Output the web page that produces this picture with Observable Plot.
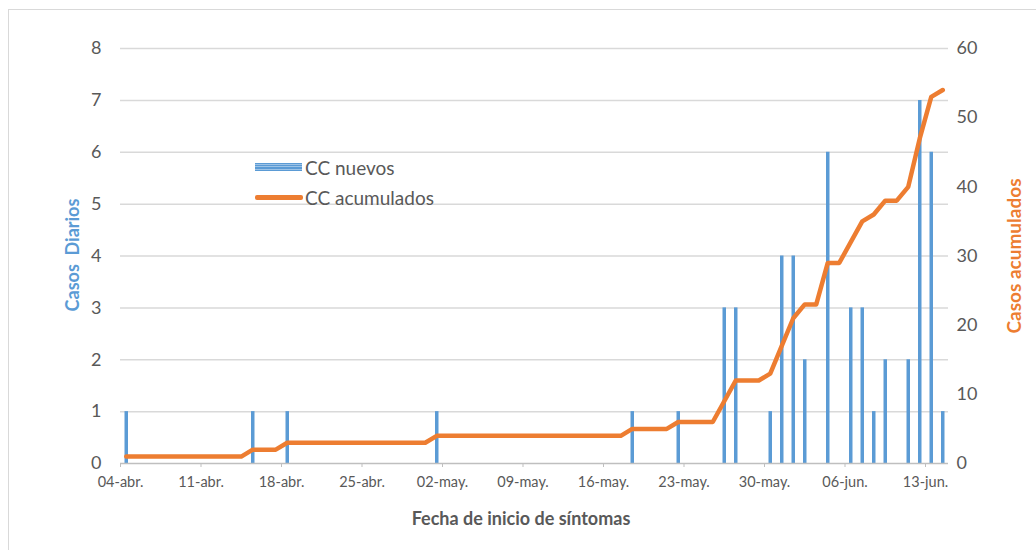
<!DOCTYPE html>
<html>
<head>
<meta charset="utf-8">
<script src="https://cdn.jsdelivr.net/npm/d3@7"></script>
<script src="https://cdn.jsdelivr.net/npm/@observablehq/plot@0.6"></script>
<style>
  html, body { margin: 0; padding: 0; background: #fff; }
  #wrap { position: relative; width: 1036px; height: 550px; overflow: hidden; font-family: Lato, "Open Sans", sans-serif; }
  #frame { position: absolute; left: 8px; top: 9px; width: 1040px; height: 560px; border-top: 1.5px solid #d9d9d9; border-left: 1.5px solid #d9d9d9; }
  .ttl { position: absolute; font-weight: bold; white-space: pre; }
  .leg { position: absolute; font-size: 19px; color: #595959; white-space: pre; }
</style>
</head>
<body>
<div id="wrap">
  <div id="frame"></div>
</div>
<script>
// ---- data ----
const startDate = "2020-04-04";
// daily new cases (CC nuevos), one value per day from 04-abr to 14-jun
const nuevos = [1,0,0,0,0,0,0,0,0,0, 0,1,0,0,1,0,0,0,0,0, 0,0,0,0,0,0,0,1,0,0,
                0,0,0,0,0,0,0,0,0,0, 0,0,0,0,1,0,0,0,1,0, 0,0,3,3,0,0,1,4,4,2,
                0,6,0,3,3,1,2,0,2,7, 6,1];
// cumulative cases (CC acumulados), same days
const acumulados = [1,1,1,1,1,1,1,1,1,1, 1,2,2,2,3,3,3,3,3,3, 3,3,3,3,3,3,3,4,4,4,
                    4,4,4,4,4,4,4,4,4,4, 4,4,4,4,5,5,5,5,6,6, 6,6,9,12,12,12,13,17,21,23,
                    23,29,29,32,35,36,38,38,40,47, 53,54];
const tickLabels = ["04-abr.","11-abr.","18-abr.","25-abr.","02-may.","09-may.","16-may.","23-may.","30-may.","06-jun.","13-jun."];
const yLeftTicks = [0,1,2,3,4,5,6,7,8];
const yRightTicks = [0,10,20,30,40,50,60];
const yRightMax = 60, yLeftMax = 8;

const start = new Date(startDate + "T00:00:00Z");
const dayCenter = i => new Date(start.getTime() + (i + 0.5) * 864e5);
const data = nuevos.map((v, i) => ({date: dayCenter(i), nuevos: v, acum: acumulados[i]}));
const ratio = yRightMax / yLeftMax;
const tickDates = tickLabels.map((_, i) => d3.utcDay.offset(start, 7 * i));
const endDate = d3.utcDay.offset(start, nuevos.length);

const chart = Plot.plot({
  width: 1036,
  height: 550,
  marginLeft: 120,
  marginRight: 88,
  marginTop: 48,
  marginBottom: 87,
  style: {fontFamily: "Lato, 'Open Sans', sans-serif", color: "#595959", background: "transparent"},
  x: {type: "utc", domain: [start, endDate]},
  y: {domain: [0, yLeftMax]},
  marks: [
    Plot.gridY(yLeftTicks.slice(1), {stroke: "#d9d9d9", strokeOpacity: 1, strokeWidth: 1.5}),
    Plot.ruleX(data.filter(d => d.nuevos > 0), {x: "date", y1: 0, y2: "nuevos", stroke: "#5b9bd5", strokeWidth: 3.5}),
    Plot.ruleY([0], {stroke: "#bfbfbf", strokeWidth: 1.5}),
    Plot.line(data, {x: "date", y: d => d.acum / ratio, stroke: "#ed7d31", strokeWidth: 4.5, strokeLinejoin: "round", strokeLinecap: "round"}),
    Plot.axisY(yLeftTicks, {anchor: "left", tickSize: 0, tickPadding: 19, fontSize: 18, fill: "#595959", tickFormat: d => String(d), label: null}),
    Plot.axisY(yRightTicks.map(v => v / ratio), {anchor: "right", tickSize: 0, tickPadding: 8, fontSize: 18, fill: "#595959", textAnchor: "start", tickFormat: d => String(Math.round(d * ratio)), label: null}),
    Plot.axisX(tickDates, {tickSize: 4, stroke: "#bfbfbf", tickPadding: 9, fontSize: 14.5, fill: "#595959", tickFormat: (d, i) => tickLabels[i], label: null})
  ]
});
chart.style.position = "absolute";
chart.style.left = "0px";
chart.style.top = "0px";
const wrap = document.getElementById("wrap");
wrap.appendChild(chart);

function addDiv(cls, text, css) {
  const el = document.createElement("div");
  el.className = cls;
  el.textContent = text;
  Object.assign(el.style, css);
  wrap.appendChild(el);
  return el;
}
// axis titles
addDiv("ttl", "Casos  Diarios", {left: "72px", top: "255px", color: "#5b9bd5", fontSize: "18px", transform: "translate(-50%,-50%) rotate(-90deg)"});
addDiv("ttl", "Casos acumulados", {left: "1013px", top: "256px", color: "#ed7d31", fontSize: "19px", transform: "translate(-50%,-50%) rotate(-90deg)"});
addDiv("ttl", "Fecha de inicio de síntomas", {left: "521px", top: "518px", color: "#595959", fontSize: "18px", transform: "translate(-50%,-50%)"});
// legend
addDiv("", "", {position: "absolute", left: "255px", top: "163px", width: "47px", height: "8px",
  background: "repeating-linear-gradient(0deg, #5b9bd5 0 1.5px, #9dc3e6 1.5px 2.5px)"});
addDiv("", "", {position: "absolute", left: "255px", top: "195px", width: "48px", height: "4.5px", background: "#ed7d31", borderRadius: "2px"});
addDiv("leg", "CC nuevos", {left: "305px", top: "167px", transform: "translateY(-50%)"});
addDiv("leg", "CC acumulados", {left: "305px", top: "197px", transform: "translateY(-50%)"});
</script>
</body>
</html>
